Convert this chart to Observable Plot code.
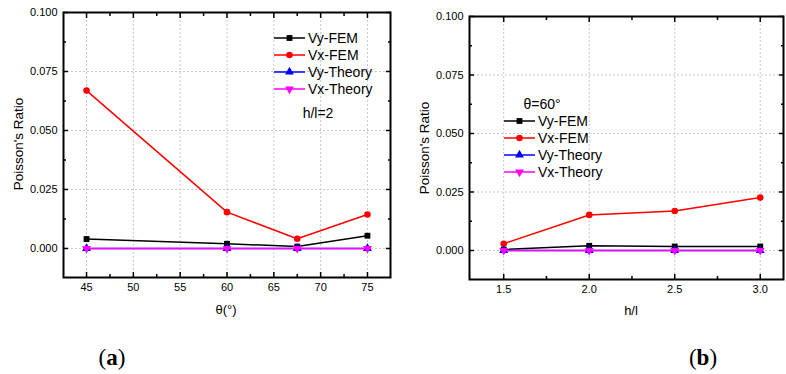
<!DOCTYPE html>
<html><head><meta charset="utf-8">
<script src="https://cdn.jsdelivr.net/npm/d3@7"></script>
<script src="https://cdn.jsdelivr.net/npm/@observablehq/plot@0.6"></script>
<style>
body{margin:0;background:#fff;font-family:"Liberation Sans",Arial,sans-serif;}
#wrap{position:relative;width:786px;height:374px;overflow:hidden;background:#fff;}
.panel{position:absolute;top:0;}
.t{position:absolute;white-space:nowrap;color:#000;line-height:1;}
.c{transform:translate(-50%,-50%);}
.row{position:absolute;display:flex;align-items:center;height:16px;font-size:14px;color:#000;white-space:nowrap;}
.row svg{display:block;}
</style></head><body><div id="wrap"></div><script>
// ---- data ----
const seriesNames = ["Vy-FEM", "Vx-FEM", "Vy-Theory", "Vx-Theory"];
const seriesColors = ["#000000", "#ff0000", "#0000ff", "#ff00ff"];
const seriesSymbols = ["square", "circle", "triangle", "triangle"];
const seriesRotate = [0, 0, 0, 180];

const thetaA = [45, 60, 67.5, 75];
const vyFemA = [0.0040, 0.0020, 0.0008, 0.0054];
const vxFemA = [0.0669, 0.0154, 0.0041, 0.0144];
const vyTheoryA = [0, 0, 0, 0];
const vxTheoryA = [0, 0, 0, 0];

const hlB = [1.5, 2.0, 2.5, 3.0];
const vyFemB = [0.0004, 0.0020, 0.0017, 0.0017];
const vxFemB = [0.0029, 0.0152, 0.0169, 0.0226];
const vyTheoryB = [0, 0, 0, 0];
const vxTheoryB = [0, 0, 0, 0];

const yMajor = [0, 0.025, 0.05, 0.075, 0.1];
const yMinor = [0.0125, 0.0375, 0.0625, 0.0875];
const xMajorA = [45, 50, 55, 60, 65, 70, 75];
const xMinorA = [47.5, 52.5, 57.5, 62.5, 67.5, 72.5];
const xMajorB = [1.5, 2.0, 2.5, 3.0];
const xMinorB = [1.75, 2.25, 2.75];

const wrap = document.getElementById("wrap");
const FONT = '"Liberation Sans", Arial, sans-serif';

function makePanel({xs, ys, xDomain, yDomain, xMajor, xMinor, xFmt, ml, mr, mt, mb}) {
  const marks = [
    Plot.gridX(xMajor, {stroke: "#c8c8c8", strokeOpacity: 1, strokeDasharray: "2,2"}),
    Plot.gridY(yMajor, {stroke: "#c8c8c8", strokeOpacity: 1, strokeDasharray: "2,2"})
  ];
  ys.forEach((vals, i) => {
    const rows = xs.map((x, j) => ({x, y: vals[j]}));
    marks.push(Plot.line(rows, {x: "x", y: "y", stroke: seriesColors[i], strokeWidth: 1.5}));
    marks.push(Plot.dot(rows, {x: "x", y: "y", symbol: seriesSymbols[i], fill: seriesColors[i], r: 3.3, rotate: seriesRotate[i]}));
  });
  const tk = {fill: "none", label: null, stroke: "#000", strokeWidth: 1.5};
  marks.push(
    Plot.axisX(xMajor, {...tk, tickSize: -5}),
    Plot.axisX(xMinor, {...tk, tickSize: -3}),
    Plot.axisX(xMajor, {...tk, anchor: "top", tickSize: -5}),
    Plot.axisX(xMinor, {...tk, anchor: "top", tickSize: -3}),
    Plot.axisY(yMajor, {...tk, tickSize: -5}),
    Plot.axisY(yMinor, {...tk, tickSize: -3}),
    Plot.axisY(yMajor, {...tk, anchor: "right", tickSize: -5}),
    Plot.axisY(yMinor, {...tk, anchor: "right", tickSize: -3}),
    Plot.axisX(xMajor, {tickSize: 0, tickPadding: 6, tickFormat: xFmt, label: null, fontSize: 11}),
    Plot.axisY(yMajor, {tickSize: 0, tickPadding: 6, tickFormat: d3.format(".3f"), label: null, fontSize: 11}),
    Plot.frame({stroke: "#000", strokeWidth: 2})
  );
  return Plot.plot({
    width: 393, height: 374,
    marginLeft: ml, marginRight: mr, marginTop: mt, marginBottom: mb,
    x: {domain: xDomain, axis: null},
    y: {domain: yDomain, axis: null},
    style: {fontFamily: FONT, fontSize: "11px", color: "#000", background: "transparent", overflow: "visible"},
    marks
  });
}

const pa = makePanel({
  xs: thetaA, ys: [vyFemA, vxFemA, vyTheoryA, vxTheoryA],
  xDomain: [42.54, 77.46], yDomain: [-0.0123, 0.1],
  xMajor: xMajorA, xMinor: xMinorA, xFmt: d3.format("d"),
  ml: 63, mr: 3, mt: 12, mb: 97
});
pa.classList.add("panel"); pa.style.left = "0px";
wrap.appendChild(pa);

const pb = makePanel({
  xs: hlB, ys: [vyFemB, vxFemB, vyTheoryB, vxTheoryB],
  xDomain: [1.30, 3.136], yDomain: [-0.0124, 0.1],
  xMajor: xMajorB, xMinor: xMinorB, xFmt: d3.format(".1f"),
  ml: 76, mr: 3, mt: 16, mb: 95
});
pb.classList.add("panel"); pb.style.left = "393px";
wrap.appendChild(pb);

function text(str, x, y, size, extra = {}) {
  const d = document.createElement("div");
  d.className = "t c";
  d.innerHTML = str;
  d.style.left = x + "px"; d.style.top = y + "px"; d.style.fontSize = size + "px";
  Object.assign(d.style, extra);
  wrap.appendChild(d);
  return d;
}
function legend(x0, y0, dy) {
  seriesNames.forEach((name, i) => {
    const row = document.createElement("div");
    row.className = "row";
    row.style.left = x0 + "px";
    row.style.top = (y0 + i * dy - 8) + "px";
    const svg = d3.create("svg").attr("width", 31).attr("height", 16);
    svg.append("line").attr("x1", 0).attr("x2", 31).attr("y1", 8).attr("y2", 8)
      .attr("stroke", seriesColors[i]).attr("stroke-width", 1.5);
    const sym = {square: d3.symbolSquare, circle: d3.symbolCircle, triangle: d3.symbolTriangle}[seriesSymbols[i]];
    svg.append("path").attr("d", d3.symbol(sym, Math.PI * 3.3 * 3.3)())
      .attr("fill", seriesColors[i])
      .attr("transform", `translate(15.5,8) rotate(${seriesRotate[i]})`);
    row.appendChild(svg.node());
    const s = document.createElement("span");
    s.textContent = name; s.style.marginLeft = "3px";
    row.appendChild(s);
    wrap.appendChild(row);
  });
}

const SERIF = '"Liberation Serif", "DejaVu Serif", serif';

// panel a texts
legend(274, 38, 17);
text("h/l=2", 318, 113, 14);
text("θ(°)", 226, 309, 13);
text("Poisson's Ratio", 19, 144, 13.5, {transform: "translate(-50%,-50%) rotate(-90deg)"});
text('(<b>a</b>)', 112, 357, 23, {fontFamily: SERIF});

// panel b texts
text("θ=60°", 542, 104, 14);
legend(504, 121, 17);
text("h/l", 631, 310, 13);
text("Poisson's Ratio", 425, 148, 13.5, {transform: "translate(-50%,-50%) rotate(-90deg)"});
text('(<b>b</b>)', 703, 357, 23, {fontFamily: SERIF});
</script></body></html>
